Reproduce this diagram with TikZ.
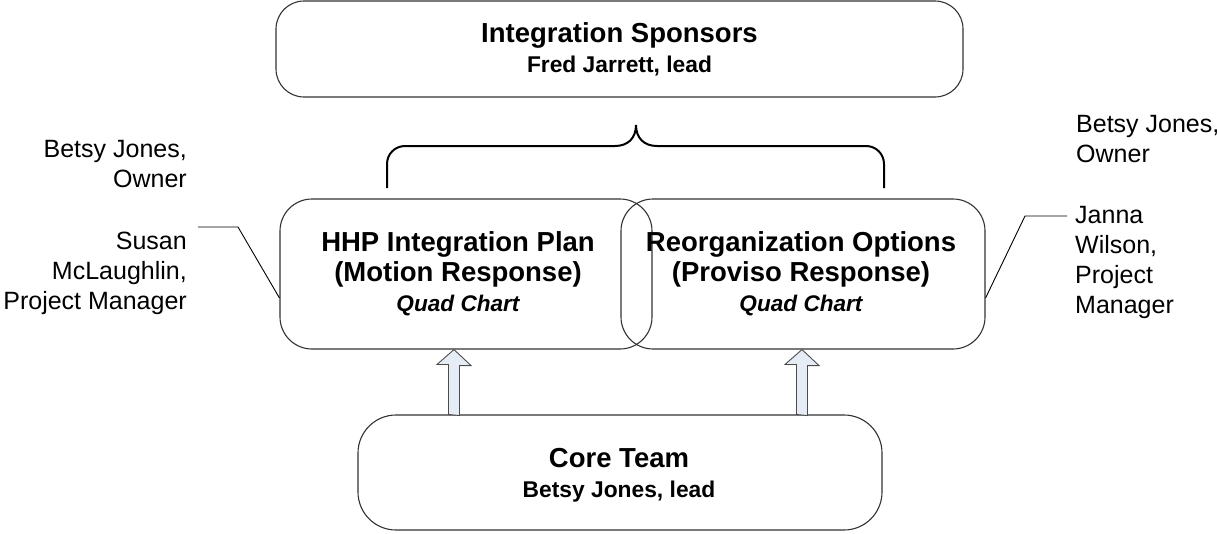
\documentclass[tikz,border=0pt]{standalone}
\usepackage{fontspec}
\setmainfont{Liberation Sans}
\usetikzlibrary{calc}

\definecolor{arrowfill}{HTML}{E6ECF6}
\definecolor{edgegray}{HTML}{333333}

% font shortcuts for the box texts
\newcommand\boxtitle{\fontsize{27.5}{30}\selectfont\bfseries}
\newcommand\boxsub{\fontsize{22.8}{30}\selectfont\bfseries}
\newcommand\boxnote{\fontsize{22.6}{30}\selectfont\bfseries\itshape}

\begin{document}
\begin{tikzpicture}[x=1pt,y=-1pt,
  box/.style={draw=edgegray, line width=1.1pt, rounded corners=#1, inner sep=0pt},
  boxtext/.style={align=center, inner sep=0pt, font=\fontsize{27.5}{30}\selectfont},
  note/.style={inner sep=0pt, font=\fontsize{25}{30}\selectfont},
  callout/.style={draw=black, line width=0.9pt},
  blockarrow/.style={draw=black!70, fill=arrowfill, line width=0.9pt, line join=miter},
  bracket/.style={draw=black, line width=2pt}
]
\useasboundingbox (0,0) rectangle (1217,533);

% boxes
\node[box=28, minimum width=687pt, minimum height=96pt]  (sponsors) at (619.5,49)  {};
\node[box=32, minimum width=372pt, minimum height=150pt] (hhp)      at (466,274)   {};
\node[box=32, minimum width=364pt, minimum height=150pt] (reorg)    at (803,274)   {};
\node[box=38, minimum width=524pt, minimum height=115pt] (core)     at (620,472.5) {};

% box texts
\node[boxtext] (sponsors-text) at (619.5,49)
  {{\boxtitle Integration Sponsors}\\{\boxsub Fred Jarrett, lead}};
\node[boxtext] (hhp-text) at (458,273.5)
  {{\boxtitle HHP Integration Plan}\\{\boxtitle (Motion Response)}\\{\boxnote Quad Chart}};
\node[boxtext] (reorg-text) at (801,273.5)
  {{\boxtitle Reorganization Options}\\{\boxtitle (Proviso Response)}\\{\boxnote Quad Chart}};
\node[boxtext] (core-text) at (619,475)
  {{\boxtitle Core Team}\\{\boxsub Betsy Jones, lead}};

% side notes
\node[note, align=right, anchor=east] (owner-left)  at (187,164.5) {Betsy Jones,\\Owner};
\node[note, align=right, anchor=east] (susan)       at (187,273)   {Susan\\McLaughlin,\\Project Manager};
\node[note, align=left,  anchor=west] (owner-right) at (1076,139)  {Betsy Jones,\\Owner};
\node[note, align=left,  anchor=west] (janna)       at (1075,262.5) {Janna\\Wilson,\\Project\\Manager};

% callout leaders
\coordinate (susan-tick) at (198,227);
\coordinate (janna-tick) at (1067,216);
\draw[callout] (susan-tick) -- ++(40,0) -- ($(hhp.west)+(0,24)$);
\draw[callout] (janna-tick) -- ++(-42,0) -- ($(reorg.east)+(0,24)$);

% bracket grouping the two deliverables under the sponsors
\draw[bracket] (387,188) -- (387,164)
  .. controls (387,154) and (395,146) .. (405,146) -- (615,146)
  .. controls (628,146) and (636,138) .. (636,125)
  .. controls (636,138) and (644,146) .. (657,146) -- (866,146)
  .. controls (876,146) and (884,154) .. (884,164) -- (884,188);

% block arrows from the core team
\draw[blockarrow] ($(core.north)+(-171.5,0)$) -- ++(0,-50) -- ++(-11.5,0)
  -- ($(hhp.south)+(-12,0)$) -- ++(17,16) -- ++(-11.5,0) -- ++(0,50) -- cycle;
\draw[blockarrow] ($(core.north)+(176.5,0)$) -- ++(0,-50) -- ++(-11.5,0)
  -- ($(reorg.south)+(-1,0)$) -- ++(17,16) -- ++(-11.5,0) -- ++(0,50) -- cycle;
\end{tikzpicture}
\end{document}
